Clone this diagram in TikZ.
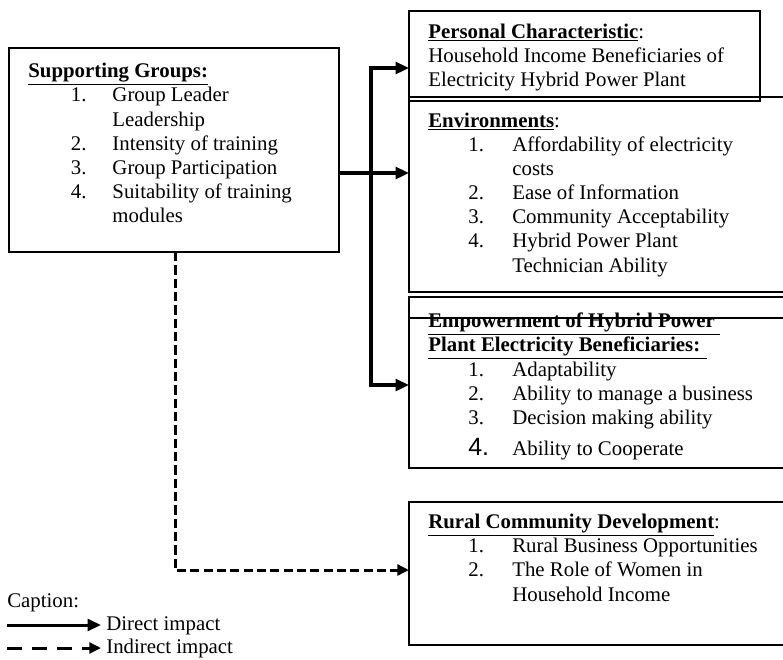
\documentclass[tikz,border=0pt]{standalone}
\usepackage{fontspec}
\setmainfont{Liberation Serif}
\newfontfamily\numsans{Liberation Sans}
\usetikzlibrary{arrows.meta}

\newcommand{\hd}[1]{\underline{\textbf{#1}}}
\newcommand{\hdrow}[1]{\multicolumn{2}{@{}l@{}}{#1}}

\begin{document}
\begin{tikzpicture}[x=0.6pt,y=-0.6pt,
    box/.style={draw, line width=0.8pt, anchor=north west, inner sep=0pt, outer sep=0pt},
    txt/.style={anchor=base west, inner sep=0pt, font=\fontsize{12.5}{14.5}\selectfont, align=left},
    directline/.style={line width=2pt, -{Triangle[length=8pt,width=7pt]}},
    dashline/.style={line width=1.8pt, dash pattern=on 5.5pt off 2.5pt, -{Triangle[length=7pt,width=6.5pt]}}]
  \clip (0,0) rectangle (783,659);

  % boxes
  \node[box, minimum width=198pt, minimum height=122.4pt] (sup) at (9,48) {};
  \node[box, minimum width=210.6pt, minimum height=54pt] (pers) at (409,11) {};
  \node[box, minimum width=228.6pt, minimum height=117pt] (env) at (409,97) {};
  \node[box, minimum width=228.6pt, minimum height=102.6pt] (emp) at (409,297) {};
  \node[box, minimum width=228.6pt, minimum height=85.8pt] (rur) at (409,502) {};
  \draw[line width=0.8pt] (emp.west |- 0,318) -- (emp.east |- 0,318);

  % texts
  \node[txt] (suptxt) at (28,77) {\begin{tabular}[t]{@{\hspace{25.5pt}}p{25pt}@{}l@{}}
    \hdrow{\hd{Supporting Groups:}}\\
    1. & Group Leader\\
       & Leadership\\
    2. & Intensity of training\\
    3. & Group Participation\\
    4. & Suitability of training\\
       & modules
  \end{tabular}};
  \node[txt] (perstxt) at (428,38) {\begin{tabular}[t]{@{}l@{}}
    \hd{Personal Characteristic}:\\
    Household Income Beneficiaries of\\
    Electricity Hybrid Power Plant
  \end{tabular}};
  \node[txt] (envtxt) at (428,127) {\begin{tabular}[t]{@{\hspace{24pt}}p{26.4pt}@{}l@{}}
    \hdrow{\hd{Environments}:}\\
    1. & Affordability of electricity\\
       & costs\\
    2. & Ease of Information\\
    3. & Community Acceptability\\
    4. & Hybrid Power Plant\\
       & Technician Ability
  \end{tabular}};
  \node[txt] (emptxt) at (428,327) {\begin{tabular}[t]{@{\hspace{24pt}}p{26.4pt}@{}l@{}}
    \hdrow{\hd{Empowerment of Hybrid Power }}\\
    \hdrow{\hd{Plant Electricity Beneficiaries: }}\\
    1. & Adaptability\\
    2. & Ability to manage a business\\
    3. & Decision making ability\\[4pt]
    {\numsans\fontsize{15}{17}\selectfont 4.} & Ability to Cooperate
  \end{tabular}};
  \node[txt] (rurtxt) at (428,528) {\begin{tabular}[t]{@{\hspace{24pt}}p{26.4pt}@{}l@{}}
    \hdrow{\hd{Rural Community Development}:}\\
    1. & Rural Business Opportunities\\
    2. & The Role of Women in\\
       & Household Income
  \end{tabular}};

  % caption
  \node[txt] (cap) at (7,607) {Caption:};
  \node[txt] (dlbl) at (106,630) {Direct impact};
  \node[txt] (ilbl) at (106,653) {Indirect impact};
  \coordinate (ds) at (7,625);
  \coordinate (is) at (7,648);
  \draw[directline, line width=1.8pt, shorten >=3pt] (ds) -- (dlbl.west |- ds);
  \draw[dashline, shorten >=3pt, dash pattern=on 9pt off 6pt] (is) -- (ilbl.west |- is);

  % connectors
  \coordinate (jn) at (371,173);
  \coordinate (dk) at (175,570);
  \draw[directline] (sup.east |- jn) -- (env.west |- jn);
  \draw[directline] (jn) |- (pers.west |- 0,68);
  \draw[directline] (jn) |- (emp.west |- 0,385);
  \draw[dashline] (sup.south -| dk) -- (dk) -- (rur.west |- dk);
\end{tikzpicture}
\end{document}
